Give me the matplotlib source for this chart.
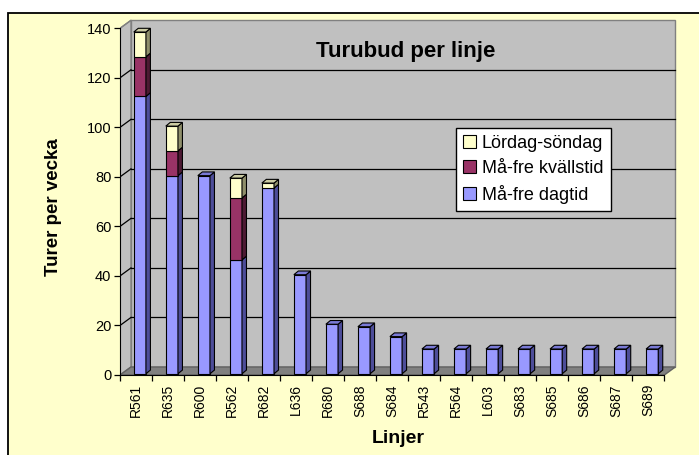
import matplotlib
matplotlib.use('Agg')
import matplotlib.pyplot as plt
from matplotlib.patches import Rectangle, Patch

plt.rcParams['font.family'] = ['Liberation Sans', 'DejaVu Sans']

linjer = ['R561', 'R635', 'R600', 'R562', 'R682', 'L636', 'R680', 'S688', 'S684',
          'R543', 'R564', 'L603', 'S683', 'S685', 'S686', 'S687', 'S689']
dagtid = [112, 80, 80, 46, 75, 40, 20, 19, 15, 10, 10, 10, 10, 10, 10, 10, 10]
kvallstid = [16, 10, 0, 25, 0, 0, 0, 0, 0, 0, 0, 0, 0, 0, 0, 0, 0]
helg = [10, 10, 0, 8, 2, 0, 0, 0, 0, 0, 0, 0, 0, 0, 0, 0, 0]
serier = ['Må-fre dagtid', 'Må-fre kvällstid', 'Lördag-söndag']

# front colour, side colour, top colour
farger = [('#9999FF', '#4D4D99', '#7A7AD6'),
          ('#993366', '#4D1A33', '#7A2952'),
          ('#FFFFCC', '#8F8F6B', '#CCCCA3')]

n = len(linjer)
dx, dy = 0.343, 3.24        # depth of walls (data units)
bdx, bdy = 0.14, 1.5        # depth of bars
bw = 0.38                   # bar width
boff = 0.43                 # bar left offset inside category
base = 0.5

fig = plt.figure(figsize=(6.99, 4.55), dpi=100)
fig.patch.set_facecolor('white')
ram = Rectangle((8/699, -0.02), 1.0, (455-13)/455 + 0.02, transform=fig.transFigure,
                fc='#FFFFCC', ec='black', lw=1.3, zorder=-10)
fig.patches.append(ram)

ax = fig.add_axes([120/699, (455-375)/455, 17.5*32.02/699, 144*2.4764/455])
ax.set_xlim(0, 17.5)
ax.set_ylim(0, 144)
ax.patch.set_visible(False)

# walls and floor
ax.fill([dx, n+dx, n+dx, dx], [dy, dy, 140+dy, 140+dy], fc='#C0C0C0', ec='#808080', lw=1, zorder=1)
ax.fill([0, dx, dx, 0], [0, dy, 140+dy, 140], fc='#C0C0C0', ec='#808080', lw=1, zorder=1)
ax.fill([0, n, n+dx, dx], [0, 0, dy, dy], fc='#808080', ec='#606060', lw=1, zorder=1)

for v in range(20, 141, 20):
    if v < 140:
        ax.plot([dx, n+dx], [v+dy, v+dy], color='black', lw=0.9, zorder=2)
    ax.plot([0, dx], [v, v+dy], color='black' if v < 140 else '#808080', lw=0.9, zorder=2)

# bars
for i in range(n):
    x0 = i + boff
    b = base
    verdier = [dagtid[i], kvallstid[i], helg[i]]
    top = b + sum(verdier)
    for k, h in enumerate(verdier):
        if h <= 0:
            continue
        fr, si, tp = farger[k]
        ax.fill([x0, x0+bw, x0+bw, x0], [b, b, b+h, b+h], fc=fr, ec='black', lw=0.8, zorder=4)
        ax.fill([x0+bw, x0+bw+bdx, x0+bw+bdx, x0+bw], [b, b+bdy, b+h+bdy, b+h],
                fc=si, ec='black', lw=0.8, zorder=4)
        if abs(b + h - top) < 1e-9:
            ax.fill([x0, x0+bdx, x0+bw+bdx, x0+bw], [b+h, b+h+bdy, b+h+bdy, b+h],
                    fc=tp, ec='black', lw=0.8, zorder=4)
        b += h

for s in ['top', 'right']:
    ax.spines[s].set_visible(False)
ax.spines['left'].set_bounds(0, 140)
ax.spines['bottom'].set_bounds(0, n)
ax.spines['left'].set_zorder(5)
ax.spines['bottom'].set_zorder(5)

ax.set_yticks(range(0, 141, 20))
ax.tick_params(axis='y', length=4.3, width=0.9, pad=2, labelsize=10.5)
ax.set_xticks([i + 0.5 for i in range(n)])
ax.set_xticklabels(linjer, rotation=90, fontsize=10)
ax.set_xticks(range(n+1), minor=True)
ax.tick_params(axis='x', which='major', length=0, pad=6.5)
ax.tick_params(axis='x', which='minor', length=4, width=0.9)

fig.text(405.5/699, 1 - 56.7/455, 'Turubud per linje', fontsize=16, fontweight='bold',
         ha='center', va='baseline')
fig.text(54/699, 1 - 207.5/455, 'Turer per vecka', fontsize=13.5, fontweight='bold',
         rotation=90, ha='center', va='center')
fig.text(398/699, 1 - 442.7/455, 'Linjer', fontsize=14, fontweight='bold',
         ha='center', va='baseline')

handles = [Patch(fc=farger[k][0], ec='black', lw=0.8) for k in [2, 1, 0]]
leg = fig.legend(handles, [serier[k] for k in [2, 1, 0]], loc='upper left',
                 bbox_to_anchor=(455.7/699, 1 - 127.7/455), fontsize=13,
                 handlelength=0.75, handleheight=0.75, handletextpad=0.3,
                 labelspacing=0.45, borderpad=0.4, borderaxespad=0,
                 fancybox=False, framealpha=1, edgecolor='black')
leg.get_frame().set_linewidth(1.0)

plt.savefig('out.png', dpi=100)
